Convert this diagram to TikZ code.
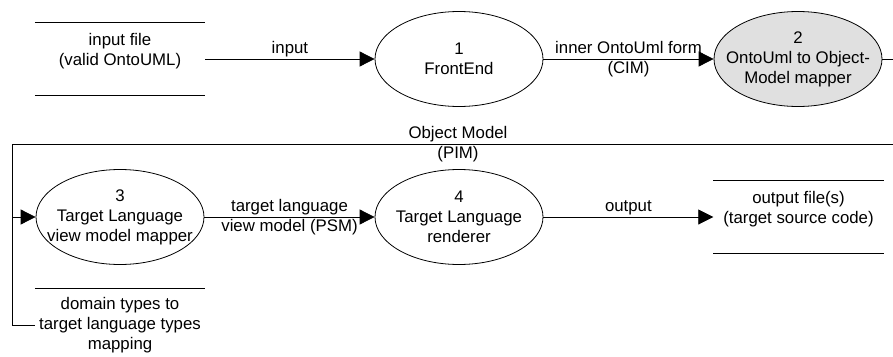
\documentclass[tikz,border=0pt]{standalone}
\usepackage{fontspec}
\setmainfont{Liberation Sans}
\usetikzlibrary{shapes.geometric,arrows.meta}
\definecolor{procgray}{RGB}{224,224,224}
\begin{document}
\begin{tikzpicture}[x=1pt,y=-1pt,
  every node/.style={font=\fontsize{16.8}{20}\selectfont},
  proc/.style={ellipse, draw, line width=0.8pt, minimum width=168pt,
    minimum height=95pt, inner sep=0pt,
    label={[align=center]center:{#1}}},
  store/.style={minimum width=170pt, minimum height=72pt, inner sep=0pt,
    align=center},
  wire/.style={line width=0.8pt},
  flow/.style={wire, -{Triangle[length=15pt,width=15pt]}},
  flowlabel/.style={above=-2pt}]
\useasboundingbox (0,0) rectangle (893,356);
\clip (0,0) rectangle (893,356);

% data stores
\node[store] (in) at (120,59) {input file\\(valid OntoUML)\\~};
\draw[wire] (in.north west) -- (in.north east) (in.south west) -- (in.south east);
\node[store] (out) at (798.5,217) {output file(s)\\(target source code)\\~};
\draw[wire] (out.north west) -- (out.north east) (out.south west) -- (out.south east);
\node[store] (dom) at (120,325) {domain types to\\target language types\\mapping};
\draw[wire] (dom.north west) -- (dom.north east) (dom.south west) -- (dom.south east);

% processes
\node[proc={1\\FrontEnd}] (fe) at (459,59) {};
\node[proc={2\\OntoUml to Object-\\Model mapper}, fill=procgray] (om) at (798,59) {};
\node[proc={3\\Target Language\\view model mapper}] (vm) at (120,217) {};
\node[proc={4\\Target Language\\renderer}] (rd) at (459,217) {};

% flows
\draw[flow] (in.east) -- node[flowlabel] {input} (fe.west);
\draw[flow] (fe.east) -- node[align=center] {inner OntoUml form\\(CIM)} (om.west);
\draw[flow] (vm.east) -- node[align=center] {target language\\view model (PSM)} (rd.west);
\draw[flow] (rd.east) -- node[flowlabel] {output} (out.west);

% object model loop back to the mapper
\coordinate (join) at (12,217);
\coordinate (rtop) at (904,59);
\coordinate (rbot) at (904,144);
\coordinate (lbot) at (12,144);
\draw[wire] (om.east) -- (rtop) -- (rbot)
  -- node[align=center] {Object Model\\(PIM)} (lbot) -- (join);
\draw[wire] (dom.west) -- (dom.west -| join) -- (join);
\draw[flow] (join) -- (vm.west);
\end{tikzpicture}
\end{document}
